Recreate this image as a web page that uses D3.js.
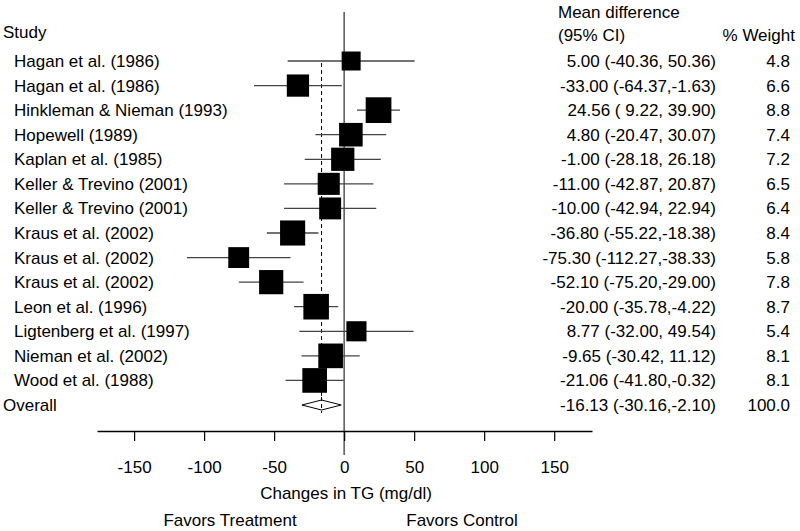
<!DOCTYPE html>
<html><head><meta charset="utf-8">
<script src="https://cdn.jsdelivr.net/npm/d3@7"></script>
<style>body{margin:0;background:#fff}svg{display:block}text{font-family:"Liberation Sans",Arial,sans-serif;font-size:17px;fill:#000}</style>
</head><body>
<script>
const studies = ["Hagan et al. (1986)","Hagan et al. (1986)","Hinkleman & Nieman (1993)","Hopewell (1989)","Kaplan et al. (1985)","Keller & Trevino (2001)","Keller & Trevino (2001)","Kraus et al. (2002)","Kraus et al. (2002)","Kraus et al. (2002)","Leon et al. (1996)","Ligtenberg et al. (1997)","Nieman et al. (2002)","Wood et al. (1988)"];
const means = [5.00,-33.00,24.56,4.80,-1.00,-11.00,-10.00,-36.80,-75.30,-52.10,-20.00,8.77,-9.65,-21.06];
const lower = [-40.36,-64.37,9.22,-20.47,-28.18,-42.87,-42.94,-55.22,-112.27,-75.20,-35.78,-32.00,-30.42,-41.80];
const upper = [50.36,-1.63,39.90,30.07,26.18,20.87,22.94,-18.38,-38.33,-29.00,-4.22,49.54,11.12,-0.32];
const weights = [4.8,6.6,8.8,7.4,7.2,6.5,6.4,8.4,5.8,7.8,8.7,5.4,8.1,8.1];
const ciLabels = ["5.00 (-40.36, 50.36)","-33.00 (-64.37,-1.63)","24.56 ( 9.22, 39.90)","4.80 (-20.47, 30.07)","-1.00 (-28.18, 26.18)","-11.00 (-42.87, 20.87)","-10.00 (-42.94, 22.94)","-36.80 (-55.22,-18.38)","-75.30 (-112.27,-38.33)","-52.10 (-75.20,-29.00)","-20.00 (-35.78,-4.22)","8.77 (-32.00, 49.54)","-9.65 (-30.42, 11.12)","-21.06 (-41.80,-0.32)"];
const weightLabels = ["4.8","6.6","8.8","7.4","7.2","6.5","6.4","8.4","5.8","7.8","8.7","5.4","8.1","8.1"];
const overall = {label:"Overall", mean:-16.13, lower:-30.16, upper:-2.10, ci:"-16.13 (-30.16,-2.10)", weight:"100.0"};
const xTicks = [-150,-100,-50,0,50,100,150];

const W=800,H=531;
const svg=d3.select("body").append("svg").attr("width",W).attr("height",H);
const x=d3.scaleLinear().domain([-176.5,177]).range([97,592]);
const rows=d3.range(studies.length+1);
const y=d3.scalePoint().domain(rows).range([61,405]);
const side=d3.scaleSqrt().domain([0,8.8]).range([0,25.7]);

// headers
svg.append("text").attr("x",3).attr("y",38).text("Study");
svg.append("text").attr("x",558).attr("y",18).text("Mean difference");
svg.append("text").attr("x",558).attr("y",41).text("(95% CI)");
svg.append("text").attr("x",795).attr("y",41).attr("text-anchor","end").text("% Weight");

// zero line
svg.append("line").attr("x1",x(0)).attr("x2",x(0)).attr("y1",12).attr("y2",455).attr("stroke","#555").attr("stroke-width",1.5);
// overall dashed line
svg.append("line").attr("x1",x(overall.mean)).attr("x2",x(overall.mean)).attr("y1",y(0)+2).attr("y2",y(studies.length)+8)
  .attr("stroke","#000").attr("stroke-width",1).attr("stroke-dasharray","4,3");

const g=svg.append("g");
studies.forEach((s,i)=>{
  const yy=y(i);
  g.append("text").attr("x",14).attr("y",yy+6).text(s);
  g.append("line").attr("x1",x(lower[i])).attr("x2",x(upper[i])).attr("y1",yy).attr("y2",yy).attr("stroke","#444").attr("stroke-width",1.3);
  const sz=side(weights[i]);
  g.append("rect").attr("x",x(means[i])-sz/2).attr("y",yy-sz/2).attr("width",sz).attr("height",sz).attr("fill","#000");
  g.append("text").attr("x",716).attr("y",yy+6).attr("text-anchor","end").text(ciLabels[i]);
  g.append("text").attr("x",790).attr("y",yy+6).attr("text-anchor","end").text(weightLabels[i]);
});
// overall row
const yo=y(studies.length);
svg.append("text").attr("x",3).attr("y",yo+6).text(overall.label);
svg.append("path").attr("d",`M${x(overall.lower)},${yo}L${x(overall.mean)},${yo-5}L${x(overall.upper)},${yo}L${x(overall.mean)},${yo+5}Z`)
  .attr("fill","#fff").attr("stroke","#000").attr("stroke-width",1);
svg.append("line").attr("x1",x(overall.mean)).attr("x2",x(overall.mean)).attr("y1",yo-8).attr("y2",yo+8).attr("stroke","#000").attr("stroke-dasharray","4,3");
svg.append("text").attr("x",716).attr("y",yo+6).attr("text-anchor","end").text(overall.ci);
svg.append("text").attr("x",790).attr("y",yo+6).attr("text-anchor","end").text(overall.weight);

// axis
const axis=d3.axisBottom(x).tickValues(xTicks).tickSize(10).tickPadding(20).tickSizeOuter(0).tickFormat(d3.format("d"));
const ax=svg.append("g").attr("transform","translate(0,431)").call(axis);
ax.select(".domain").attr("stroke","#000").attr("stroke-width",1.3);
ax.selectAll(".tick line").attr("stroke","#000").attr("stroke-width",1.2);
ax.selectAll(".tick text").style("font-size","17px").style("font-family","Liberation Sans, Arial, sans-serif").attr("fill","#000");
ax.selectAll(".tick text").text(d=>d<0?"-"+Math.abs(d):d);

svg.append("text").attr("x",346).attr("y",499).attr("text-anchor","middle").text("Changes in TG (mg/dl)");
svg.append("text").attr("x",230).attr("y",526).attr("text-anchor","middle").text("Favors Treatment");
svg.append("text").attr("x",462).attr("y",526).attr("text-anchor","middle").text("Favors Control");
</script>
</body></html>
